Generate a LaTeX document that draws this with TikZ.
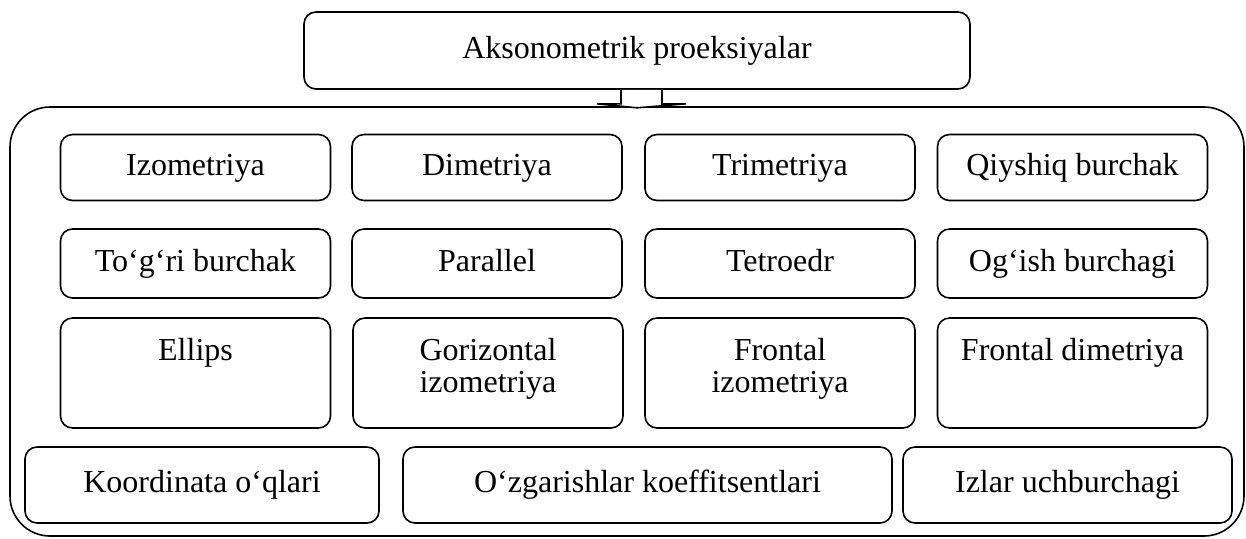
\documentclass[tikz,border=0pt]{standalone}
\usepackage{fontspec}
\setmainfont{Liberation Serif}
\usepackage{tikz}

\tikzset{%
  box/.style={draw, line width=0.8pt, rounded corners=6pt, align=center,
    text height=11pt, text depth=3.5pt,
    minimum width=135pt, minimum height=33pt, font=\fontsize{16}{19}\selectfont},
  tallbox/.style={box, minimum height=55pt},
  tallbox text/.style={align=center, anchor=north, yshift=-7pt,
    font=\fontsize{16}{16}\selectfont}
}

\begin{document}
\begin{tikzpicture}[x=0.5pt,y=-0.5pt]
  \useasboundingbox (0,0) rectangle (1246,538);

  % outer frame
  \draw[line width=0.8pt, rounded corners=20pt] (10,107) rectangle (1244,536);

  \node[box, minimum width=333pt, minimum height=38.5pt] (aks) at (637,50.5) {Aksonometrik proeksiyalar};

  % small block arrow under the top box
  \draw[line width=0.8pt, fill=white]
    ([xshift=-8pt]aks.south) -- ++(0,-7pt) -- ++(-12pt,0)
    -- ([yshift=-9pt]aks.south) -- ([xshift=24.5pt,yshift=-7pt]aks.south)
    -- ([xshift=12.5pt,yshift=-7pt]aks.south) -- ([xshift=12.5pt]aks.south);

  % first row
  \node[box] (izo) at (195.5,167.5) {Izometriya};
  \node[box] (dim) at (487,167.5) {Dimetriya};
  \node[box] (tri) at (780,167.5) {Trimetriya};
  \node[box] (qiy) at (1072.5,167.5) {Qiyshiq burchak};

  % second row
  \node[box, minimum height=34.5pt] (tog) at (195.5,263.5) {To‘g‘ri burchak};
  \node[box, minimum height=34.5pt] (par) at (487,263.5) {Parallel};
  \node[box, minimum height=34.5pt] (tet) at (780,263.5) {Tetroedr};
  \node[box, minimum height=34.5pt] (ogi) at (1072.5,263.5) {Og‘ish burchagi};

  % third row
  \node[tallbox, label={[tallbox text]north:Ellips}] (ell) at (195.5,373) {};
  \node[tallbox, label={[tallbox text]north:Gorizontal\\izometriya}] (gor) at (488,373) {};
  \node[tallbox, label={[tallbox text]north:Frontal\\izometriya}] (fri) at (780,373) {};
  \node[tallbox, label={[tallbox text]north:Frontal dimetriya}] (frd) at (1072.5,373) {};

  % last row
  \node[box, minimum width=177pt, minimum height=38pt] (koo) at (202,485) {Koordinata o‘qlari};
  \node[box, minimum width=244.5pt, minimum height=38pt] (ozg) at (647.5,485) {O‘zgarishlar koeffitsentlari};
  \node[box, minimum width=164.5pt, minimum height=38pt] (izl) at (1067.5,485) {Izlar uchburchagi};
\end{tikzpicture}
\end{document}
